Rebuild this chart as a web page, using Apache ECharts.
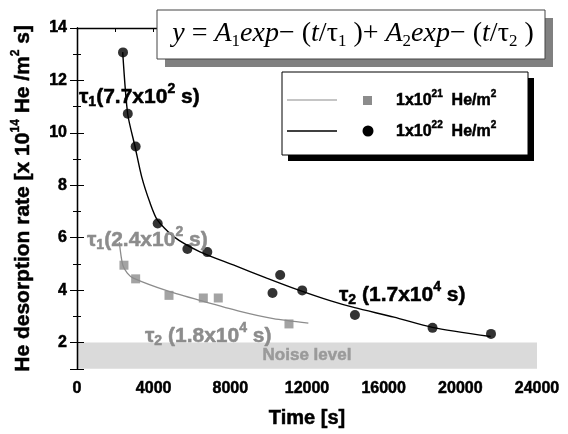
<!DOCTYPE html>
<html>
<head>
<meta charset="utf-8">
<script src="https://cdn.jsdelivr.net/npm/echarts@6/dist/echarts.min.js"></script>
<style>
  html, body { margin: 0; padding: 0; background: #fff; }
  #chart { width: 568px; height: 434px; }
</style>
</head>
<body>
<div id="chart"></div>
<script>
// measured points, 1x10^22 He/m2 (black circles)
var timeHigh = [2400, 2650, 3060, 4210, 5760, 6800, 10200, 10600, 11750, 14500, 18550, 21600];
var rateHigh = [13.07, 10.73, 9.48, 6.54, 5.57, 5.45, 3.89, 4.58, 3.99, 3.05, 2.56, 2.33];
// measured points, 1x10^21 He/m2 (grey squares)
var timeLow = [2450, 3060, 4800, 6590, 7370, 11060];
var rateLow = [4.95, 4.43, 3.80, 3.70, 3.70, 2.71];
// fitted curves
var fitHighT = [2384, 2645, 3026, 3376, 3809, 4190, 5024, 6417, 8155, 9897, 11462, 13200, 14489, 16539, 18537, 21584];
var fitHighY = [13.08, 10.72, 9.48, 8.32, 7.33, 6.68, 6.05, 5.46, 4.96, 4.46, 4.03, 3.60, 3.33, 2.97, 2.58, 2.23];
var fitLowT = [2207, 2384, 2624, 2937, 4763, 6590, 8504, 10243, 12070];
var fitLowY = [5.83, 4.96, 4.65, 4.46, 3.96, 3.57, 3.19, 2.91, 2.74];
// noise band and axis ranges
var noiseBand = [1, 2];
var timeRange = [0, 24000];
var rateRange = [1, 14];

function pairs(xs, ys) {
  var out = [];
  for (var i = 0; i < xs.length; i++) out.push([xs[i], ys[i]]);
  return out;
}

var FONT = 'Arial';
var SERIF = 'Liberation Serif';
var GREY = '#8c8c8c';

// bold Arial with a thin outline so it reads as heavy as the original
function heavy(size, color, extra) {
  var s = {
    fontFamily: FONT, fontSize: size, fontWeight: 'bold', fill: color,
    stroke: color, lineWidth: 0.5
  };
  for (var k in extra) s[k] = extra[k];
  return s;
}

function anno(x, y, txt, color) {
  return {
    type: 'text', x: x, y: y, z: 20,
    style: {
      text: txt, verticalAlign: 'middle', align: 'left',
      rich: {
        b: heavy(21, color),
        sub: heavy(14, color, { padding: [11, 0, 0, 0] }),
        sup: heavy(14, color, { padding: [0, 0, 15, 0] })
      }
    }
  };
}
function legendText(y, power) {
  return {
    type: 'text', z: 32, x: 396, y: y,
    style: {
      text: '{t|1x10}{s|' + power + '}{t|  He/m}{s|2}', verticalAlign: 'middle',
      rich: {
        t: heavy(16, '#000'),
        s: heavy(10, '#000', { padding: [0, 0, 14, 0] })
      }
    }
  };
}

var chart = echarts.init(document.getElementById('chart'), null, { renderer: 'canvas' });

var option = {
  animation: false,
  backgroundColor: '#fff',
  grid: { left: 77, right: 31, top: 28, bottom: 58 },
  xAxis: [{
    type: 'value', position: 'bottom',
    min: timeRange[0], max: timeRange[1], interval: 4000,
    axisLine: { show: false }, axisTick: { show: false }, splitLine: { show: false },
    axisLabel: {
      color: '#000', fontFamily: FONT, fontSize: 16, fontWeight: 'bold', margin: 12,
      textBorderColor: '#000', textBorderWidth: 0.5,
      formatter: function (v) { return String(v); }
    },
    name: 'Time [s]', nameLocation: 'middle', nameGap: 40,
    nameTextStyle: {
      color: '#000', fontFamily: FONT, fontSize: 20, fontWeight: 'bold',
      textBorderColor: '#000', textBorderWidth: 0.5
    }
  }, {
    type: 'value', position: 'top',
    min: timeRange[0], max: timeRange[1], interval: 4000,
    axisLine: { show: true, lineStyle: { color: '#000', width: 1.3 } },
    axisTick: { show: true, inside: true, length: 4, lineStyle: { color: '#000' } },
    minorTick: { show: true, splitNumber: 2, length: 4, lineStyle: { color: '#000' } },
    axisLabel: { show: false }, splitLine: { show: false }
  }],
  yAxis: [{
    type: 'value', position: 'left', z: 10,
    min: rateRange[0], max: rateRange[1], splitNumber: 7,
    axisLine: { show: true, lineStyle: { color: '#000', width: 1.3 } },
    axisTick: { show: true, inside: true, length: 7, lineStyle: { color: '#000' } },
    minorTick: { show: true, splitNumber: 2, length: 4, lineStyle: { color: '#000' } },
    splitLine: { show: false },
    axisLabel: {
      color: '#000', fontFamily: FONT, fontSize: 16, fontWeight: 'bold', margin: 10,
      textBorderColor: '#000', textBorderWidth: 0.5,
      formatter: function (v) { return v === rateRange[0] ? '' : String(v); }
    },
    name: '{t|He desorption rate [x 10}{s|14}{t| He /m}{s|2}{t| s]}',
    nameLocation: 'middle', nameRotate: 90, nameGap: 40,
    nameTextStyle: {
      rich: {
        t: { color: '#000', fontFamily: FONT, fontSize: 21, fontWeight: 'bold', textBorderColor: '#000', textBorderWidth: 0.5 },
        s: { color: '#000', fontFamily: FONT, fontSize: 12, fontWeight: 'bold', textBorderColor: '#000', textBorderWidth: 0.4, padding: [0, 0, 15, 0] }
      }
    }
  }, {
    type: 'value', position: 'right', z: 10,
    min: rateRange[0], max: rateRange[1], splitNumber: 7,
    axisLine: { show: true, lineStyle: { color: '#000', width: 1.3 } },
    axisTick: { show: true, inside: true, length: 7, lineStyle: { color: '#000' } },
    minorTick: { show: true, splitNumber: 2, length: 4, lineStyle: { color: '#000' } },
    axisLabel: { show: false }, splitLine: { show: false }
  }],
  series: [{
    name: 'fit low', type: 'line', data: pairs(fitLowT, fitLowY),
    showSymbol: false, smooth: 0.25, z: 3,
    lineStyle: { color: GREY, width: 1.3 },
    markArea: {
      silent: true,
      itemStyle: { color: '#dadada' },
      label: {
        show: true, position: 'inside', color: '#9a9a9a',
        fontFamily: FONT, fontSize: 17, fontWeight: 'bold',
        textBorderColor: '#9a9a9a', textBorderWidth: 0.5
      },
      data: [[
        { name: 'Noise level', xAxis: timeRange[0], yAxis: noiseBand[0] },
        { xAxis: timeRange[1], yAxis: noiseBand[1] }
      ]]
    }
  }, {
    name: 'fit high', type: 'line', data: pairs(fitHighT, fitHighY),
    showSymbol: false, smooth: 0.25, z: 3,
    lineStyle: { color: '#000', width: 1.4 }
  }, {
    name: '1x10^21 He/m2', type: 'scatter', data: pairs(timeLow, rateLow),
    symbol: 'rect', symbolSize: 9, z: 4,
    itemStyle: { color: GREY }
  }, {
    name: '1x10^22 He/m2', type: 'scatter', data: pairs(timeHigh, rateHigh),
    symbol: 'circle', symbolSize: 10, z: 4,
    itemStyle: { color: '#000' }
  }],
  graphic: [
    // formula box
    { type: 'rect', z: 30, shape: { x: 165, y: 18, width: 388, height: 49 }, style: { fill: '#808080' } },
    { type: 'rect', z: 31, shape: { x: 157, y: 10, width: 388, height: 49 }, style: { fill: '#fff', stroke: '#444', lineWidth: 1 } },
    {
      type: 'text', z: 32, x: 353, y: 34,
      style: {
        text: '{i|y} {r|=} {i|A}{s|1}{i|exp}{r|− (}{i|t}{r|/τ}{s|1}{r| )+ }{i|A}{s|2}{i|exp}{r|− (}{i|t}{r|/τ}{s|2}{r| )}',
        align: 'center', verticalAlign: 'middle',
        font: 'italic 28px "Liberation Serif", serif',
        rich: {
          i: { fontFamily: SERIF, fontStyle: 'italic', fontSize: 28, fill: '#000' },
          r: { fontFamily: SERIF, fontSize: 28, fill: '#000' },
          s: { fontFamily: SERIF, fontSize: 17, fill: '#000', padding: [16, 0, 0, 0] }
        }
      }
    },
    // legend box
    { type: 'rect', z: 30, shape: { x: 288, y: 78, width: 246, height: 83 }, style: { fill: '#000' } },
    { type: 'rect', z: 31, shape: { x: 282, y: 72, width: 246, height: 83 }, style: { fill: '#fff', stroke: '#000', lineWidth: 1 } },
    { type: 'line', z: 32, shape: { x1: 287, y1: 100, x2: 337, y2: 100 }, style: { stroke: GREY, lineWidth: 1.2 } },
    { type: 'line', z: 32, shape: { x1: 287, y1: 131, x2: 337, y2: 131 }, style: { stroke: '#000', lineWidth: 1.4 } },
    { type: 'rect', z: 32, shape: { x: 363, y: 96, width: 9, height: 9 }, style: { fill: GREY } },
    { type: 'circle', z: 32, shape: { cx: 368, cy: 131, r: 5.5 }, style: { fill: '#000' } },
    legendText(101, '21'),
    legendText(132, '22'),
    // fit annotations
    anno(79, 97, '{b|τ}{sub|1}{b|(7.7x10}{sup|2}{b| s)}', '#000'),
    anno(87, 240, '{b|τ}{sub|1}{b|(2.4x10}{sup|2}{b| s)}', GREY),
    anno(145, 336, '{b|τ}{sub|2}{b| (1.8x10}{sup|4}{b| s)}', GREY),
    anno(339, 295, '{b|τ}{sub|2}{b| (1.7x10}{sup|4}{b| s)}', '#000')
  ]
};

chart.setOption(option);
window.addEventListener('resize', function () { chart.resize(); });
</script>
</body>
</html>
